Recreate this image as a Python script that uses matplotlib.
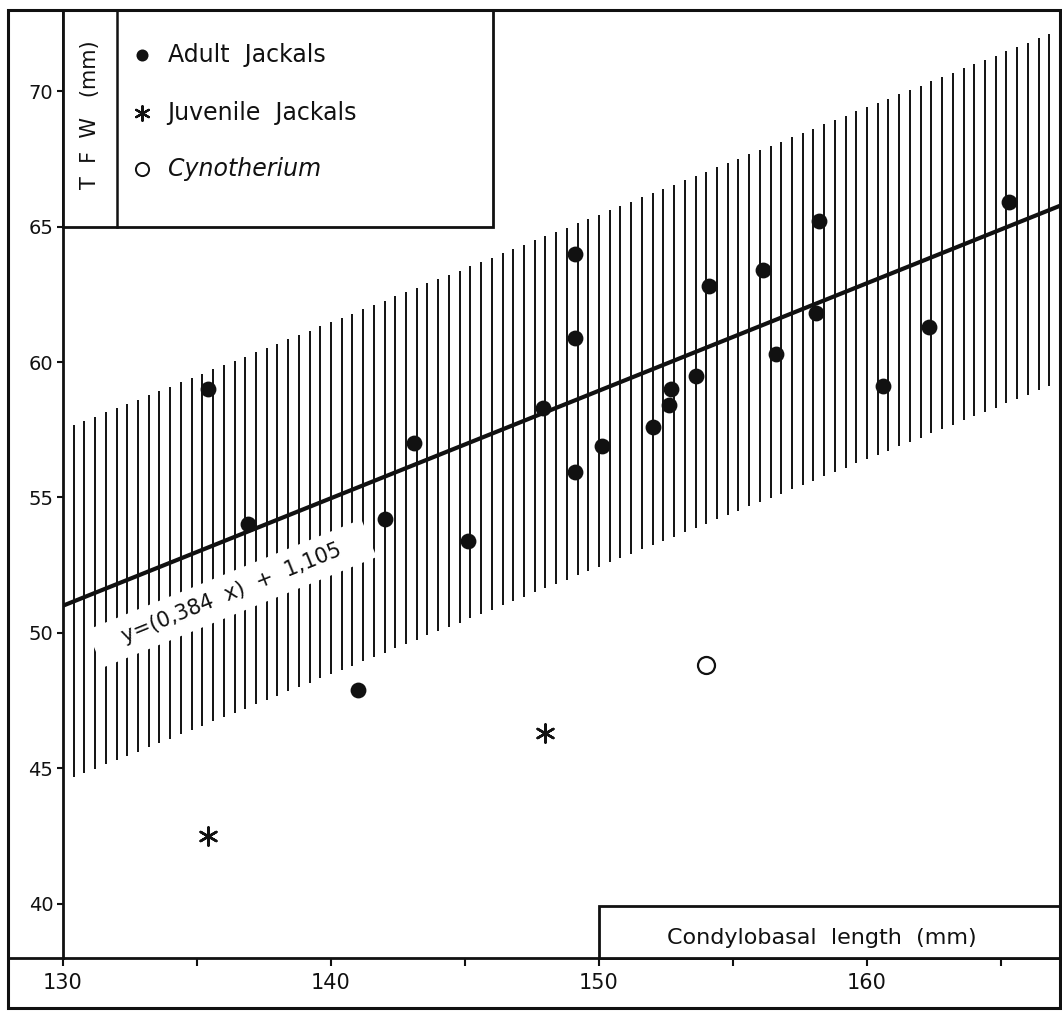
import matplotlib.pyplot as plt
import numpy as np
from matplotlib.lines import Line2D
from matplotlib.patches import Rectangle

plt.rcParams['font.family'] = ['Liberation Sans Narrow', 'DejaVu Sans']

# Adult jackals: condylobasal length (mm) vs TFW (mm)
adult_x = [135.4, 136.9, 141.0, 142.0, 143.1, 145.1, 147.9, 149.1, 149.1, 149.1,
           150.1, 152.0, 152.6, 152.7, 153.6, 154.1, 156.1, 156.6, 158.1, 158.2,
           160.6, 162.3, 165.3]
adult_y = [59.0, 54.0, 47.9, 54.2, 57.0, 53.4, 58.3, 64.0, 60.9, 55.95,
           56.9, 57.6, 58.4, 59.0, 59.5, 62.8, 63.4, 60.3, 61.8, 65.2,
           59.1, 61.3, 65.9]

juvenile_x = [135.4, 148.0]
juvenile_y = [42.5, 46.3]

cyno_x = [154.0]
cyno_y = [48.8]

# regression line as drawn, and half width of the hatched band
line_x = [130.0, 167.2]
line_y = [51.0, 65.77]
band_half = 6.5

xticks = [130, 140, 150, 160]
yticks = [40, 45, 50, 55, 60, 65, 70]

W, H = 1062, 1014
fig = plt.figure(figsize=(W / 100, H / 100), dpi=100)
ax = fig.add_axes([63 / W, (H - 957.7) / H, (1060 - 63) / W, (957.7 - 10) / H])
ax.set_xlim(130, 167.2)
ax.set_ylim(38, 73)

ink = '#111111'

# hatched confidence band (vertical strokes)
slope = (line_y[1] - line_y[0]) / (line_x[1] - line_x[0])
hx = np.arange(130.4, 167.15, 0.4)
hmid = line_y[0] + slope * (hx - line_x[0])
ax.vlines(hx, hmid - band_half, hmid + band_half, color=ink, lw=1.4, zorder=1)

# regression line
ax.plot(line_x, line_y, color=ink, lw=3.0, zorder=3, solid_capstyle='butt')

ax.text(136.3, 51.45, '   y=(0,384  x)  +  1,105   ', rotation=22,
        rotation_mode='anchor', ha='center', va='center', fontsize=15,
        color=ink, zorder=2,
        bbox=dict(boxstyle='square,pad=0.5', fc='white', ec='none'))

# points
ax.scatter(adult_x, adult_y, s=130, color=ink, zorder=5, linewidths=0)
ax.scatter(juvenile_x, juvenile_y, s=170, marker=(6, 2, 0), color=ink,
           linewidths=1.8, zorder=5)
ax.scatter(cyno_x, cyno_y, s=150, facecolor='white', edgecolor=ink,
           linewidths=1.6, zorder=5)

# legend box with the y label in its own column
ax.add_patch(Rectangle((130, 65), 16.04, 8, fc='white', ec=ink, lw=2, zorder=6,
                       clip_on=False))
ax.plot([132.0, 132.0], [65, 73], color=ink, lw=1.8, zorder=7)
ax.text(131.0, 69.15, 'T  F  W   (mm)', rotation=90, ha='center', va='center',
        fontsize=15, color=ink, zorder=7)

leg_rows = [71.35, 69.2, 67.12]
ax.scatter([132.95], [leg_rows[0]], s=75, color=ink, zorder=8, linewidths=0)
ax.scatter([132.95], [leg_rows[1]], s=110, marker=(6, 2, 0), color=ink,
           linewidths=1.6, zorder=8)
ax.scatter([132.95], [leg_rows[2]], s=90, facecolor='white', edgecolor=ink,
           linewidths=1.4, zorder=8)
ax.text(133.9, leg_rows[0], 'Adult  Jackals', va='center', fontsize=17,
        color=ink, zorder=8)
ax.text(133.9, leg_rows[1], 'Juvenile  Jackals', va='center', fontsize=17,
        color=ink, zorder=8)
ax.text(133.9, leg_rows[2], 'Cynotherium', va='center', fontsize=17,
        style='italic', color=ink, zorder=8)

# x label box in the lower right corner
ax.add_patch(Rectangle((150, 38), 17.2, 1.9, fc='white', ec=ink, lw=2, zorder=6,
                       clip_on=False))
ax.text(158.3, 38.72, 'Condylobasal  length  (mm)', ha='center', va='center',
        fontsize=16, color=ink, zorder=7)

# axes styling
for side in ['left', 'bottom', 'top', 'right']:
    ax.spines[side].set_linewidth(2)
    ax.spines[side].set_color(ink)
ax.set_xticks(xticks)
ax.set_xticks([135, 145, 155, 165], minor=True)
ax.set_yticks(yticks)
ax.tick_params(axis='y', direction='out', length=4, width=1.5, pad=3,
               labelsize=14, colors=ink)
ax.tick_params(axis='x', which='both', direction='out', length=6, width=1.5,
               pad=5, labelsize=15, colors=ink)

# outer frame of the whole figure
fig.patches.append(Rectangle((8 / W, 6 / H), (1060 - 8) / W, (1004 - 6) / H,
                             transform=fig.transFigure, fill=False, ec=ink,
                             lw=2.2))
fig.lines.append(Line2D([8 / W, 63 / W], [(H - 957.7) / H] * 2,
                        transform=fig.transFigure, color=ink, lw=2))

fig.savefig('out.png', dpi=100, facecolor='white')
